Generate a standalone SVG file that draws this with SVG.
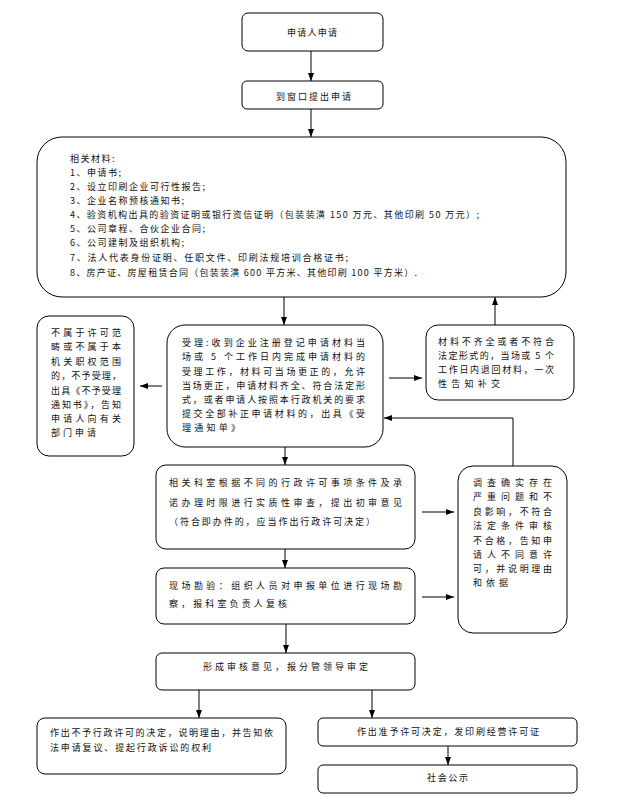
<svg xmlns="http://www.w3.org/2000/svg" width="623" height="797" viewBox="0 0 623 797">
<style>
.box{fill:#fff;stroke:#000;stroke-width:1}
.t{font-family:"Noto Sans CJK SC","Noto Sans CJK JP","DejaVu Sans",sans-serif;font-size:9px;fill:#111}
.ls{letter-spacing:1.5px}
.c{fill:none;stroke:#000;stroke-width:1}
</style>
<defs>
<marker id="ah" viewBox="0 0 8 6" refX="8" refY="3" markerWidth="8" markerHeight="6" orient="auto" markerUnits="userSpaceOnUse">
<path d="M0,0 L8,3 L0,6 z" fill="#000"/>
</marker>
</defs>
<rect width="623" height="797" fill="#fff"/>

<g id="n-apply">
<rect class="box" x="242" y="13" width="141" height="38" rx="6"/>
<text class="t" x="287" y="36" textLength="50" lengthAdjust="spacing">申请人申请</text>
</g>
<g id="n-window">
<rect class="box" x="242" y="81" width="141" height="28" rx="5"/>
<text class="t" x="276" y="100" textLength="75" lengthAdjust="spacing">到窗口提出申请</text>
</g>
<g id="n-materials">
<rect class="box" x="37" y="137" width="529" height="160" rx="25"/>
<text class="t ls" x="70" y="162">相关材料:</text>
<text class="t ls" x="70" y="176">1、申请书;</text>
<text class="t ls" x="70" y="190">2、设立印刷企业可行性报告;</text>
<text class="t ls" x="70" y="204">3、企业名称预核通知书;</text>
<text class="t" x="70" y="218" textLength="409" lengthAdjust="spacing">4、验资机构出具的验资证明或银行资信证明（包装装潢 150 万元、其他印刷 50 万元）;</text>
<text class="t ls" x="70" y="232">5、公司章程、合伙企业合同;</text>
<text class="t ls" x="70" y="246">6、公司建制及组织机构;</text>
<text class="t" x="70" y="261" textLength="278" lengthAdjust="spacing">7、法人代表身份证明、任职文件、印刷法规培训合格证书;</text>
<text class="t" x="70" y="276" textLength="347" lengthAdjust="spacing">8、房产证、房屋租赁合同（包装装潢 600 平方米、其他印刷 100 平方米）.</text>
</g>
<g id="n-reject-scope">
<rect class="box" x="37" y="316" width="97" height="140" rx="12"/>
<text class="t" x="51" y="336" textLength="70" lengthAdjust="spacing">不属于许可范</text>
<text class="t" x="51" y="350" textLength="70" lengthAdjust="spacing">畴或不属于本</text>
<text class="t" x="51" y="365" textLength="70" lengthAdjust="spacing">机关职权范围</text>
<text class="t" x="51" y="379" textLength="70" lengthAdjust="spacing">的，不予受理，</text>
<text class="t" x="51" y="394" textLength="70" lengthAdjust="spacing">出具《不予受理</text>
<text class="t" x="51" y="408" textLength="70" lengthAdjust="spacing">通知书》，告知</text>
<text class="t" x="51" y="422" textLength="70" lengthAdjust="spacing">申请人向有关</text>
<text class="t" x="51" y="436" textLength="45" lengthAdjust="spacing">部门申请</text>
</g>
<g id="n-accept">
<rect class="box" x="167" y="325" width="216" height="122" rx="18"/>
<text class="t" x="182" y="346" textLength="183" lengthAdjust="spacing">受理:收到企业注册登记申请材料当</text>
<text class="t" x="182" y="360" textLength="183" lengthAdjust="spacing">场或 5 个工作日内完成申请材料的</text>
<text class="t" x="182" y="375" textLength="183" lengthAdjust="spacing">受理工作，材料可当场更正的，允许</text>
<text class="t" x="182" y="389" textLength="183" lengthAdjust="spacing">当场更正，申请材料齐全、符合法定形</text>
<text class="t" x="182" y="403" textLength="183" lengthAdjust="spacing">式，或者申请人按照本行政机关的要求</text>
<text class="t" x="182" y="417" textLength="183" lengthAdjust="spacing">提交全部补正申请材料的，出具《受</text>
<text class="t" x="182" y="431" textLength="58" lengthAdjust="spacing">理通知单》</text>
</g>
<g id="n-incomplete">
<rect class="box" x="426" y="325" width="148" height="75" rx="12"/>
<text class="t" x="438" y="345" textLength="116" lengthAdjust="spacing">材料不齐全或者不符合</text>
<text class="t" x="438" y="359" textLength="116" lengthAdjust="spacing">法定形式的，当场或 5 个</text>
<text class="t" x="438" y="373" textLength="116" lengthAdjust="spacing">工作日内退回材料，一次</text>
<text class="t" x="438" y="387" textLength="62" lengthAdjust="spacing">性告知补交</text>
</g>
<g id="n-review">
<rect class="box" x="156" y="465" width="259" height="84" rx="10"/>
<text class="t" x="169" y="486" textLength="233" lengthAdjust="spacing">相关科室根据不同的行政许可事项条件及承</text>
<text class="t" x="169" y="506" textLength="233" lengthAdjust="spacing">诺办理时限进行实质性审查，提出初审意见</text>
<text class="t" x="169" y="525" textLength="206" lengthAdjust="spacing">（符合即办件的，应当作出行政许可决定）</text>
</g>
<g id="n-inspect">
<rect class="box" x="156" y="568" width="259" height="56" rx="8"/>
<text class="t" x="169" y="589" textLength="233" lengthAdjust="spacing">现场勘验：组织人员对申报单位进行现场勘</text>
<text class="t" x="169" y="607" textLength="118" lengthAdjust="spacing">察，报科室负责人复核</text>
</g>
<g id="n-refuse-serious">
<rect class="box" x="458" y="466" width="109" height="167" rx="15"/>
<text class="t" x="473" y="486" textLength="79" lengthAdjust="spacing">调查确实存在</text>
<text class="t" x="473" y="500" textLength="79" lengthAdjust="spacing">严重问题和不</text>
<text class="t" x="473" y="515" textLength="79" lengthAdjust="spacing">良影响，不符合</text>
<text class="t" x="473" y="529" textLength="79" lengthAdjust="spacing">法定条件审核</text>
<text class="t" x="473" y="544" textLength="79" lengthAdjust="spacing">不合格，告知申</text>
<text class="t" x="473" y="558" textLength="79" lengthAdjust="spacing">请人不同意许</text>
<text class="t" x="473" y="572" textLength="79" lengthAdjust="spacing">可，并说明理由</text>
<text class="t" x="473" y="586" textLength="35" lengthAdjust="spacing">和依据</text>
</g>
<g id="n-opinion">
<rect class="box" x="156" y="653" width="259" height="37" rx="6"/>
<text class="t" x="203" y="670" textLength="165" lengthAdjust="spacing">形成审核意见，报分管领导审定</text>
</g>
<g id="n-deny">
<rect class="box" x="37" y="718" width="249" height="56" rx="8"/>
<text class="t" x="50" y="736" textLength="223" lengthAdjust="spacing">作出不予行政许可的决定，说明理由，并告知依</text>
<text class="t" x="50" y="751" textLength="161" lengthAdjust="spacing">法申请复议、提起行政诉讼的权利</text>
</g>
<g id="n-grant">
<rect class="box" x="318" y="718" width="259" height="28" rx="5"/>
<text class="t" x="357" y="735" textLength="182" lengthAdjust="spacing">作出准予许可决定，发印刷经营许可证</text>
</g>
<g id="n-publish">
<rect class="box" x="318" y="765" width="259" height="28" rx="5"/>
<text class="t" x="427" y="781" textLength="41" lengthAdjust="spacing">社会公示</text>
</g>

<g id="connectors">
<path class="c" d="M311,51 V81" marker-end="url(#ah)"/>
<path class="c" d="M311,109 V137" marker-end="url(#ah)"/>
<path class="c" d="M284,297 V325" marker-end="url(#ah)"/>
<path class="c" d="M162,386 H140" marker-end="url(#ah)"/>
<path class="c" d="M389,378 H422" marker-end="url(#ah)"/>
<path class="c" d="M495,325 V297" marker-end="url(#ah)"/>
<path class="c" d="M513,466 V418 H384" marker-end="url(#ah)"/>
<path class="c" d="M285,447 V465" marker-end="url(#ah)"/>
<path class="c" d="M422,512 H454" marker-end="url(#ah)"/>
<path class="c" d="M285,549 V568" marker-end="url(#ah)"/>
<path class="c" d="M422,597 H454" marker-end="url(#ah)"/>
<path class="c" d="M286,624 V653" marker-end="url(#ah)"/>
<path class="c" d="M199,690 V718" marker-end="url(#ah)"/>
<path class="c" d="M372,690 V718" marker-end="url(#ah)"/>
<path class="c" d="M448,746 V765" marker-end="url(#ah)"/>
</g>
</svg>
